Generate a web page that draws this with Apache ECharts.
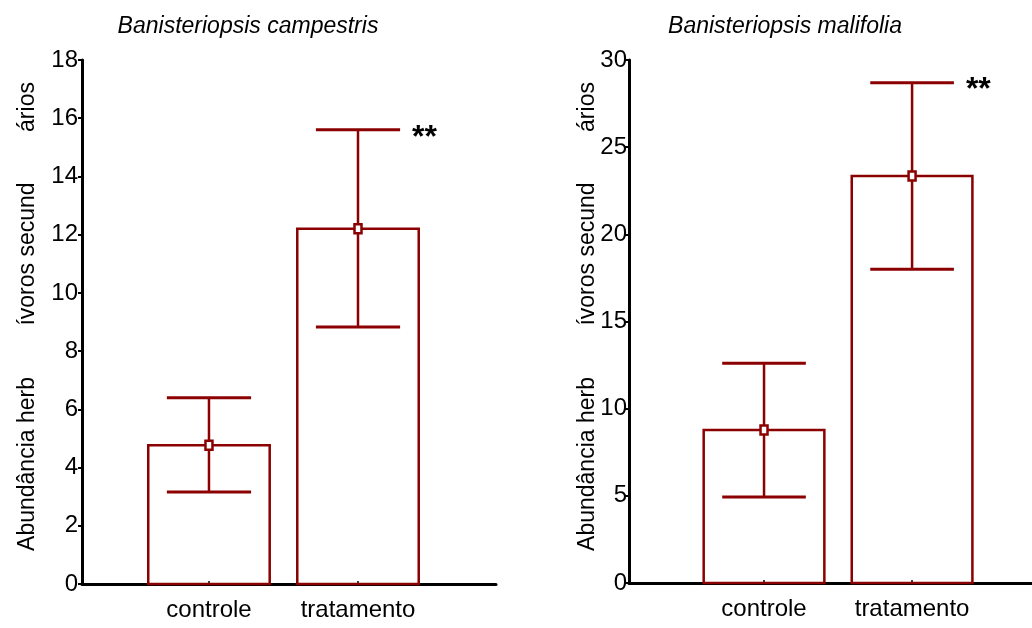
<!DOCTYPE html>
<html>
<head>
<meta charset="utf-8">
<style>
  html, body { margin: 0; padding: 0; background: #ffffff; }
  #chart { width: 1032px; height: 628px; }
</style>
<script src="https://cdn.jsdelivr.net/npm/echarts@6/dist/echarts.min.js"></script>
</head>
<body>
<div id="chart"></div>
<script>
// Groups along the x axis (placed at positions 1 and 2)
const categories = ['controle', 'tratamento'];
const positions = [1, 2];

// Banisteriopsis campestris: mean and error-bar limits
const campestrisMean  = [4.77, 12.2];
const campestrisLower = [3.16, 8.83];
const campestrisUpper = [6.40, 15.6];
const campestrisSig   = ['', '**'];

// Banisteriopsis malifolia: mean and error-bar limits
const malifoliaMean  = [8.78, 23.35];
const malifoliaLower = [4.93, 18.0];
const malifoliaUpper = [12.6, 28.7];
const malifoliaSig   = ['', '**'];

// Axis ticks
const campestrisTicks = { min: 0, max: 18, interval: 2 };
const malifoliaTicks  = { min: 0, max: 30, interval: 5 };

const titles = ['Banisteriopsis campestris', 'Banisteriopsis malifolia'];
const yNameParts = ['Abundância herb', 'ívoros secund', 'ários'];

const RED = '#8b0000';
const FONT = '"Liberation Sans", Arial, sans-serif';
const BAR_W = 0.815;   // bar width in x units
const CAP_W = 0.565;   // error cap width in x units

function rows(mean, lower, upper) {
  return positions.map((p, i) => [p, mean[i], lower[i], upper[i]]);
}

function makeRenderer(sig) {
  return function (params, api) {
    const x = api.value(0);
    const mean = api.value(1), lo = api.value(2), hi = api.value(3);
    const pMean = api.coord([x, mean]);
    const p0 = api.coord([x, 0]);
    const pLo = api.coord([x, lo]);
    const pHi = api.coord([x, hi]);
    const cx = pMean[0];
    const barW = api.size([BAR_W, 0])[0];
    const capW = api.size([CAP_W, 0])[0];
    const children = [
      { type: 'rect',
        shape: { x: cx - barW / 2, y: pMean[1], width: barW, height: p0[1] - pMean[1] },
        style: { fill: 'none', stroke: RED, lineWidth: 2.5 } },
      { type: 'line',
        shape: { x1: cx, y1: pLo[1], x2: cx, y2: pHi[1] },
        style: { stroke: RED, lineWidth: 2.5 } },
      { type: 'line',
        shape: { x1: cx - capW / 2, y1: pHi[1], x2: cx + capW / 2, y2: pHi[1] },
        style: { stroke: RED, lineWidth: 3 } },
      { type: 'line',
        shape: { x1: cx - capW / 2, y1: pLo[1], x2: cx + capW / 2, y2: pLo[1] },
        style: { stroke: RED, lineWidth: 3 } },
      { type: 'rect',
        shape: { x: cx - 3.5, y: pMean[1] - 4.5, width: 7, height: 9 },
        style: { fill: '#ffffff', stroke: RED, lineWidth: 2.5 } }
    ];
    const mark = sig[params.dataIndex];
    if (mark) {
      children.push({
        type: 'text',
        x: cx + capW / 2 + 12,
        y: pHi[1] + 8,
        style: { text: mark, fill: '#000', font: 'bold 32px ' + FONT,
                 align: 'left', verticalAlign: 'middle' }
      });
    }
    return { type: 'group', children: children };
  };
}

function xAxisFor(gridIndex, min, max) {
  return {
    type: 'value', gridIndex: gridIndex, min: min, max: max,
    axisLine: { show: true, lineStyle: { color: '#000', width: 3 } },
    axisTick: { show: true, inside: true, length: 3, customValues: positions,
                lineStyle: { color: '#000', width: 1.5 } },
    axisLabel: { show: true, customValues: positions, margin: 14,
                 color: '#000', fontSize: 24, fontFamily: FONT,
                 formatter: v => categories[positions.indexOf(Math.round(v))] },
    splitLine: { show: false }
  };
}

function yAxisFor(gridIndex, t, margin) {
  return {
    type: 'value', gridIndex: gridIndex, min: t.min, max: t.max, interval: t.interval,
    axisLine: { show: true, lineStyle: { color: '#000', width: 3 } },
    axisTick: { show: true, length: 4, lineStyle: { color: '#000', width: 2 } },
    axisLabel: { color: '#000', fontSize: 24, fontFamily: FONT, margin: margin },
    splitLine: { show: false }
  };
}

function yNameTexts(cx) {
  const centers = [464, 254, 107];
  return yNameParts.map((t, i) => ({
    type: 'text', x: cx, y: centers[i], rotation: Math.PI / 2,
    style: { text: t, fill: '#000', font: '23px ' + FONT,
             align: 'center', verticalAlign: 'middle' }
  }));
}

const chart = echarts.init(document.getElementById('chart'), null, { renderer: 'canvas' });
chart.setOption({
  backgroundColor: '#ffffff',
  animation: false,
  title: [
    { text: titles[0], left: 243, top: 10, textAlign: 'center',
      textStyle: { fontStyle: 'italic', fontWeight: 'normal', fontSize: 23, fontFamily: FONT, color: '#000' } },
    { text: titles[1], left: 780, top: 10, textAlign: 'center',
      textStyle: { fontStyle: 'italic', fontWeight: 'normal', fontSize: 23, fontFamily: FONT, color: '#000' } }
  ],
  grid: [
    { left: 82, top: 60, right: 536, bottom: 44 },
    { left: 629, top: 60, right: 0, bottom: 45 }
  ],
  xAxis: [xAxisFor(0, 0.148, 2.926), xAxisFor(1, 0.088, 2.81)],
  yAxis: [yAxisFor(0, campestrisTicks, 4), yAxisFor(1, malifoliaTicks, 2)],
  graphic: yNameTexts(28).concat(yNameTexts(588)),
  series: [
    { type: 'custom', xAxisIndex: 0, yAxisIndex: 0,
      renderItem: makeRenderer(campestrisSig),
      data: rows(campestrisMean, campestrisLower, campestrisUpper) },
    { type: 'custom', xAxisIndex: 1, yAxisIndex: 1,
      renderItem: makeRenderer(malifoliaSig),
      data: rows(malifoliaMean, malifoliaLower, malifoliaUpper) }
  ]
});
</script>
</body>
</html>
